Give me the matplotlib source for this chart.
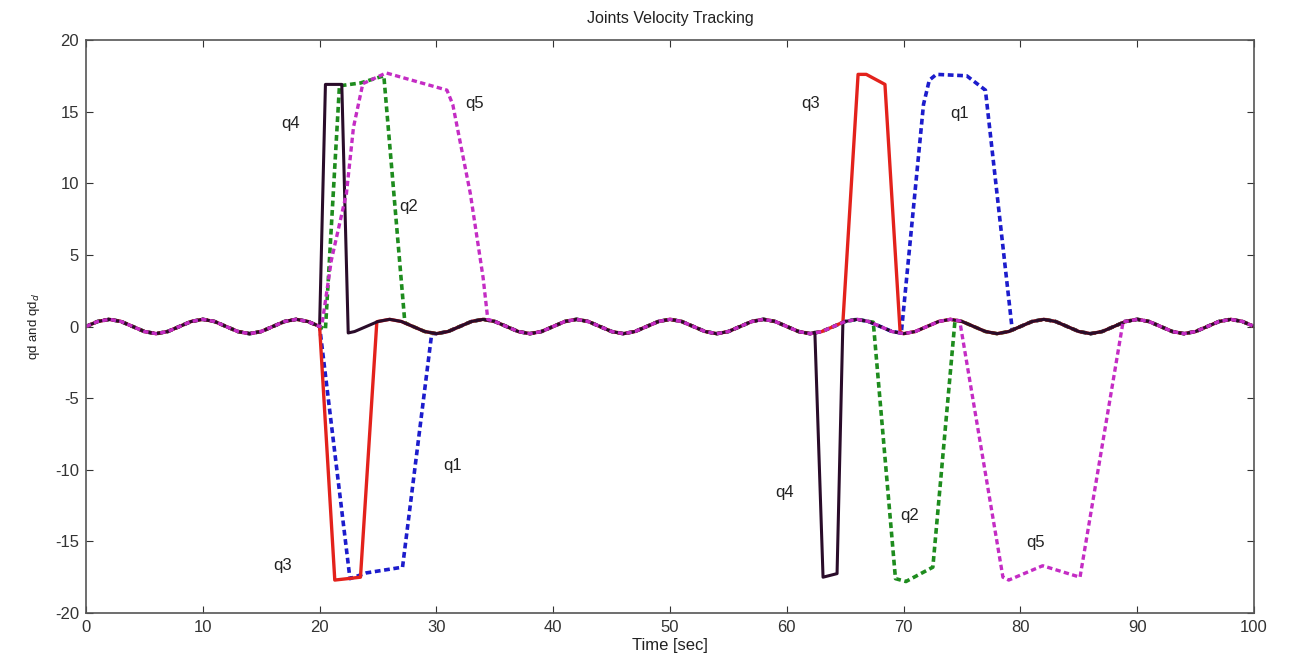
import matplotlib.pyplot as plt
import numpy as np

# common small oscillation that every joint follows (read at 1 s steps)
t_base = list(range(0, 101))
v_base = [0, 0.35, 0.5, 0.35, 0, -0.35, -0.5, -0.35,
          0, 0.35, 0.5, 0.35, 0, -0.35, -0.5, -0.35,
          0, 0.35, 0.5, 0.35, 0, -0.35, -0.5, -0.35,
          0, 0.35, 0.5, 0.35, 0, -0.35, -0.5, -0.35,
          0, 0.35, 0.5, 0.35, 0, -0.35, -0.5, -0.35,
          0, 0.35, 0.5, 0.35, 0, -0.35, -0.5, -0.35,
          0, 0.35, 0.5, 0.35, 0, -0.35, -0.5, -0.35,
          0, 0.35, 0.5, 0.35, 0, -0.35, -0.5, -0.35,
          0, 0.35, 0.5, 0.35, 0, -0.35, -0.5, -0.35,
          0, 0.35, 0.5, 0.35, 0, -0.35, -0.5, -0.35,
          0, 0.35, 0.5, 0.35, 0, -0.35, -0.5, -0.35,
          0, 0.35, 0.5, 0.35, 0, -0.35, -0.5, -0.35,
          0, 0.35, 0.5, 0.35, 0]

# excursions of each joint away from the common oscillation
q1_t = [[20.0, 22.6, 24.0, 27.1, 29.6], [69.8, 71.7, 72.2, 72.8, 75.4, 77.0, 79.3]]
q1_v = [[0.0, -17.6, -17.2, -16.8, -0.48], [-0.45, 15.5, 17.2, 17.6, 17.5, 16.5, -0.25]]

q2_t = [[20.5, 21.7, 23.5, 25.5, 27.3], [67.4, 69.3, 70.2, 72.5, 74.4]]
q2_v = [[-0.2, 16.8, 17.0, 17.5, 0.26], [0.3, -17.6, -17.8, -16.8, 0.45]]

q3_t = [[20.0, 21.3, 23.5, 24.9], [64.8, 66.1, 66.8, 68.4, 69.7]]
q3_v = [[0.0, -17.7, -17.5, 0.33], [0.3, 17.6, 17.6, 16.9, -0.4]]

q4_t = [[20.0, 20.5, 21.9, 22.45], [62.4, 63.1, 64.3, 64.8]]
q4_v = [[0.0, 16.9, 16.9, -0.45], [-0.4, -17.5, -17.25, 0.3]]

q5_t = [[20.2, 21.0, 22.3, 22.9, 23.7, 25.7, 30.9, 31.4, 32.9, 34.0, 34.4],
        [74.8, 78.5, 79.0, 81.9, 85.1, 88.8]]
q5_v = [[0.1, 4.6, 9.3, 13.9, 16.95, 17.7, 16.5, 15.5, 9.3, 3.4, 0.5],
        [0.4, -17.5, -17.7, -16.7, -17.5, 0.4]]

labels = ['q4', 'q5', 'q2', 'q1', 'q3', 'q3', 'q1', 'q4', 'q2', 'q5']
label_x = [17.5, 33.3, 27.6, 31.4, 16.8, 62.0, 74.8, 59.8, 70.5, 81.3]
label_y = [14.2, 15.6, 8.4, -9.7, -16.7, 15.6, 14.9, -11.6, -13.2, -15.1]


def joint(ex_t, ex_v):
    tb = np.array(t_base, float)
    vb = np.array(v_base, float)
    keep = np.ones(len(tb), bool)
    for et in ex_t:
        keep &= ~((tb >= et[0]) & (tb <= et[-1]))
    t = np.concatenate([tb[keep]] + [np.array(e, float) for e in ex_t])
    v = np.concatenate([vb[keep]] + [np.array(e, float) for e in ex_v])
    order = np.argsort(t)
    return t[order], v[order]


plt.rcParams['font.family'] = ['Liberation Sans', 'DejaVu Sans']
plt.rcParams['axes.unicode_minus'] = False

fig = plt.figure(figsize=(12.89, 6.61), dpi=100)
ax = fig.add_axes([0.0667, 0.0726, 0.9062, 0.8669])

dash = (0, (1.6, 1.0))
t, v = joint(q1_t, q1_v)
ax.plot(t, v, color='#1c1ccc', lw=2.6, linestyle=dash)
t, v = joint(q2_t, q2_v)
ax.plot(t, v, color='#1e8c1e', lw=2.6, linestyle=dash)
t, v = joint(q3_t, q3_v)
ax.plot(t, v, color='#e3221c', lw=2.4)
t, v = joint(q4_t, q4_v)
ax.plot(t, v, color='#2a0c2a', lw=2.2)
t, v = joint(q5_t, q5_v)
ax.plot(t, v, color='#c42cc4', lw=2.4, linestyle=dash)

for s, x, y in zip(labels, label_x, label_y):
    ax.text(x, y, s, fontsize=12, ha='center', va='center', color='#222222')

ax.set_xlim(0, 100)
ax.set_ylim(-20, 20)
ax.set_xticks(range(0, 101, 10))
ax.set_yticks(range(-20, 21, 5))
ax.tick_params(direction='in', length=5, top=True, right=True,
               labelsize=12, colors='#333333', pad=5)
for sp in ax.spines.values():
    sp.set_color('#555555')
    sp.set_linewidth(1.2)

ax.set_title('Joints Velocity Tracking', fontsize=11.5, color='#222222', pad=12)
ax.set_xlabel('Time [sec]', fontsize=12, color='#222222', labelpad=2)
ax.set_ylabel('qd and qd$_d$', fontsize=9.5, color='#222222', labelpad=9)

fig.savefig('out.png', dpi=100)
